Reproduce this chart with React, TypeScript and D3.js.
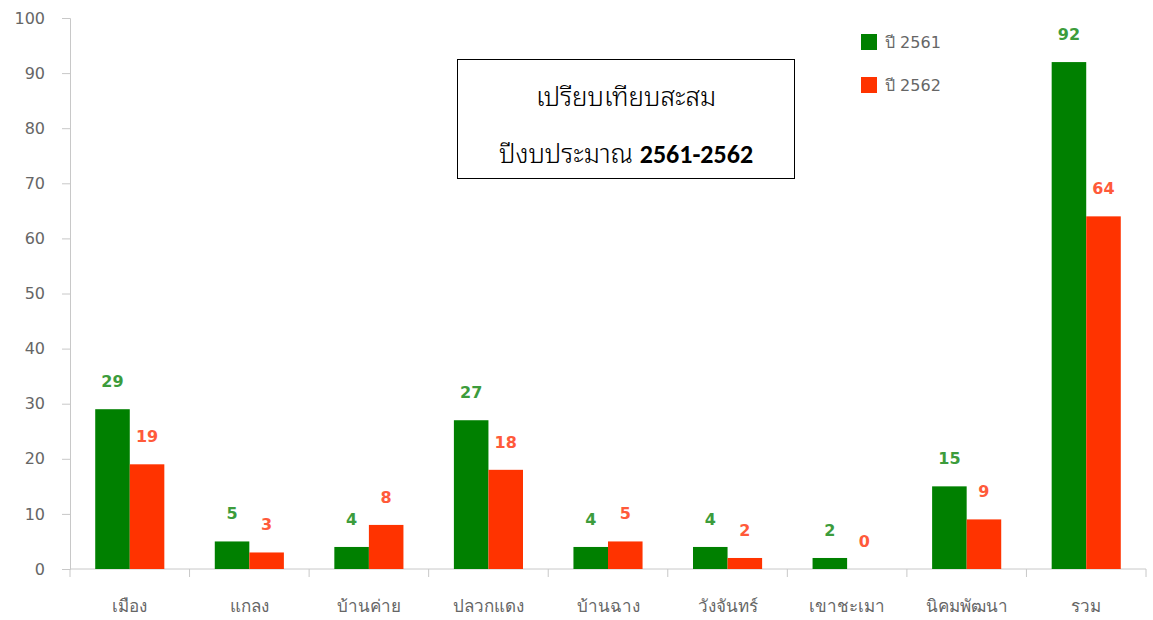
import React, { useEffect, useRef } from "react";
import * as d3 from "d3";

const categories = ["เมือง", "แกลง", "บ้านค่าย", "ปลวกแดง", "บ้านฉาง", "วังจันทร์", "เขาชะเมา", "นิคมพัฒนา", "รวม"];
const values2561 = [29, 5, 4, 27, 4, 4, 2, 15, 92];
const values2562 = [19, 3, 8, 18, 5, 2, 0, 9, 64];
const seriesNames = ["ปี 2561", "ปี 2562"];
const yTicks = [0, 10, 20, 30, 40, 50, 60, 70, 80, 90, 100];

const colors = ["#008000", "#ff3300"];
const labelColors = ["#3c9c3c", "#ff5a3a"];

const App = () => {
  const svgRef = useRef<SVGSVGElement>(null);

  useEffect(() => {
    const width = 1153, height = 620;
    const left = 70, right = 1146, top = 18, bottom = 569;
    const font = "Verdana, 'DejaVu Sans', 'Noto Sans', sans-serif";
    const thaiTitle = "'Noto Sans Thai Looped', 'Noto Serif Thai', 'Noto Sans Thai', sans-serif";

    const svg = d3.select(svgRef.current)
      .attr("width", width)
      .attr("height", height)
      .style("position", "absolute")
      .style("left", "0px")
      .style("top", "0px");
    svg.selectAll("*").remove();

    const x = d3.scaleBand().domain(categories).range([left, right]).padding(0);
    const x1 = d3.scaleBand().domain(seriesNames).range([0, x.bandwidth()]).paddingInner(0).paddingOuter(0.73);
    const y = d3.scaleLinear().domain([0, 100]).range([bottom, top]);

    // y axis
    const yAxis = svg.append("g")
      .attr("transform", `translate(${left},0)`)
      .call(d3.axisLeft(y).tickValues(yTicks).tickSize(8).tickPadding(17));
    yAxis.select(".domain").attr("stroke", "#c8c8c8");
    yAxis.selectAll(".tick line").attr("stroke", "#c8c8c8");
    yAxis.selectAll(".tick text")
      .attr("fill", "#666")
      .style("font-family", font)
      .style("font-size", "16px");

    // x axis
    const xAxis = svg.append("g").attr("transform", `translate(0,${bottom})`);
    xAxis.append("line")
      .attr("x1", left).attr("x2", right)
      .attr("stroke", "#c8c8c8");
    xAxis.selectAll("line.t")
      .data(d3.range(categories.length + 1))
      .enter().append("line")
      .attr("class", "t")
      .attr("x1", i => left + i * x.bandwidth())
      .attr("x2", i => left + i * x.bandwidth())
      .attr("y1", 0).attr("y2", 8)
      .attr("stroke", "#c8c8c8");
    xAxis.selectAll("text")
      .data(categories)
      .enter().append("text")
      .attr("x", d => (x(d) as number) + x.bandwidth() / 2)
      .attr("y", 43)
      .attr("text-anchor", "middle")
      .attr("fill", "#666")
      .style("font-family", font)
      .style("font-size", "17px")
      .text(d => d);

    // bars
    const series = [values2561, values2562];
    series.forEach((vals, si) => {
      const g = svg.append("g");
      g.selectAll("rect")
        .data(categories)
        .enter().append("rect")
        .attr("x", d => (x(d) as number) + (x1(seriesNames[si]) as number))
        .attr("y", (d, i) => y(vals[i]))
        .attr("width", x1.bandwidth())
        .attr("height", (d, i) => bottom - y(vals[i]))
        .attr("fill", colors[si]);
      g.selectAll("text")
        .data(categories)
        .enter().append("text")
        .attr("x", d => (x(d) as number) + (x1(seriesNames[si]) as number) + x1.bandwidth() / 2)
        .attr("y", (d, i) => y(vals[i]) - 22)
        .attr("text-anchor", "middle")
        .attr("fill", labelColors[si])
        .style("font-family", font)
        .style("font-size", "16px")
        .style("font-weight", "bold")
        .text((d, i) => vals[i]);
    });

    // title box
    const tb = svg.append("g");
    tb.append("rect")
      .attr("x", 457.5).attr("y", 59.5)
      .attr("width", 337).attr("height", 119)
      .attr("fill", "#fff")
      .attr("stroke", "#000");
    tb.append("text")
      .attr("x", 626).attr("y", 106)
      .attr("text-anchor", "middle")
      .attr("fill", "#000")
      .style("font-family", thaiTitle)
      .style("font-size", "26px")
      .style("font-weight", 300)
      .text("เปรียบเทียบสะสม");
    const t2 = tb.append("text")
      .attr("x", 626).attr("y", 163)
      .attr("text-anchor", "middle")
      .attr("fill", "#000")
      .style("font-family", thaiTitle)
      .style("font-size", "26px")
      .style("font-weight", 300);
    t2.append("tspan").text("ปีงบประมาณ ");
    t2.append("tspan")
      .style("font-family", "Calibri, Carlito, 'Open Sans', sans-serif")
      .style("font-weight", "bold")
      .text("2561-2562");

    // legend
    const lg = svg.append("g");
    seriesNames.forEach((name, i) => {
      lg.append("rect")
        .attr("x", 861).attr("y", 34 + i * 43)
        .attr("width", 16).attr("height", 16)
        .attr("fill", colors[i]);
      lg.append("text")
        .attr("x", 885).attr("y", 48 + i * 43)
        .attr("fill", "#666")
        .style("font-family", font)
        .style("font-size", "16px")
        .text(name);
    });
  }, []);

  return <svg ref={svgRef}></svg>;
};

export default App;
